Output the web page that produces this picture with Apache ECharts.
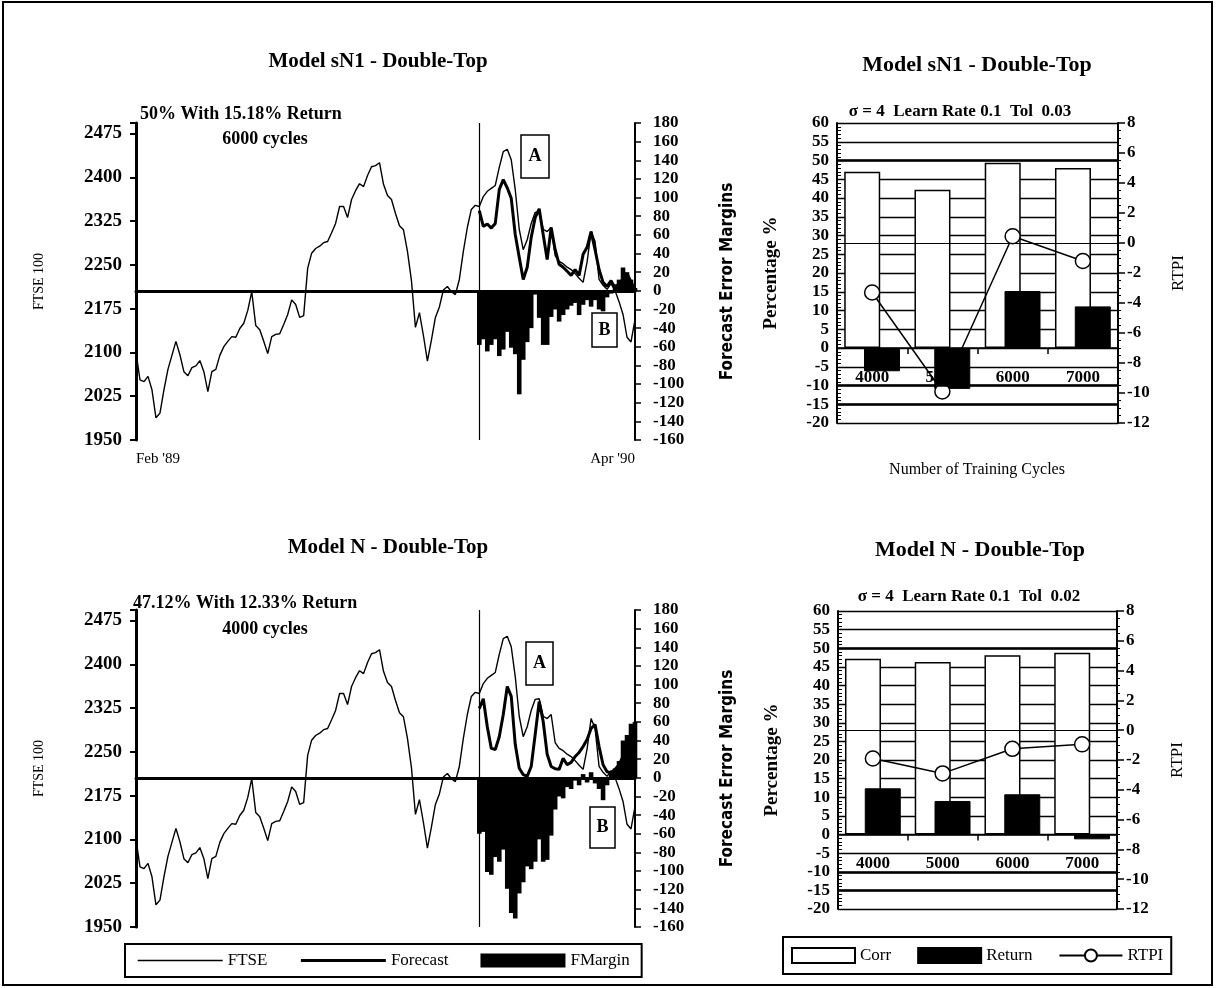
<!DOCTYPE html>
<html>
<head>
<meta charset="utf-8">
<script src="https://cdn.jsdelivr.net/npm/echarts@6/dist/echarts.min.js"></script>
<style>
  html, body { margin: 0; padding: 0; background: #fff; }
  #chart { width: 1216px; height: 988px; }
</style>
</head>
<body>
<div id="chart"></div>
<script>
  'use strict';

  /* data: FTSE 100, Feb '89 .. Apr '90 (same index in both left panels) */
  var dateLabels = ["Feb '89", "Apr '90"];
  var ftse = [
    2100, 2053, 2050, 2059, 2036, 1988, 1996, 2036, 2071, 2095,
    2119, 2096, 2067, 2060, 2074, 2077, 2086, 2067, 2033, 2067,
    2071, 2095, 2110, 2119, 2127, 2126, 2141, 2150, 2172, 2204,
    2146, 2139, 2119, 2098, 2127, 2131, 2132, 2148, 2165, 2190,
    2182, 2160, 2163, 2244, 2270, 2278, 2282, 2288, 2290, 2305,
    2321, 2350, 2350, 2331, 2362, 2377, 2389, 2384, 2403, 2418,
    2420, 2425, 2388, 2369, 2362, 2338, 2317, 2310, 2273, 2223,
    2143, 2168, 2129, 2085, 2121, 2160, 2178, 2207, 2213, 2204,
    2199, 2225, 2273, 2314, 2345, 2352, 2350, 2367, 2376, 2381,
    2386, 2417, 2444, 2448, 2430, 2379, 2311, 2276, 2293, 2321,
    2340, 2341, 2311, 2307, 2314, 2266, 2256, 2252, 2246, 2242,
    2235, 2227, 2220, 2255, 2307, 2290, 2225, 2215, 2208, 2218,
    2206, 2187, 2165, 2126, 2118, 2156
  ];
  var forecastStart = 86;

  /* Model sN1 (6000 cycles) */
  var forecastSN1 = [
    2343, 2316, 2320, 2313, 2321, 2379, 2396, 2382, 2364, 2302,
    2263, 2225, 2246, 2297, 2331, 2346, 2302, 2259, 2314, 2276,
    2251, 2246, 2239, 2232, 2242, 2232, 2268, 2280, 2307, 2276,
    2242, 2220, 2213, 2223, 2210, 2218, 2226, 2235, 2221, 2207
  ];
  var marginSN1 = [
    -58, -52, -65, -58, -52, -70, -63, -44, -61, -68,
    -111, -74, -55, -40, -4, -29, -58, -58, -28, -20,
    -33, -26, -20, -16, -13, -26, -15, -10, -17, -10,
    -20, -22, -7, -3, 7, 12, 25, 20, 12, 3
  ];

  /* Model N (4000 cycles) */
  var forecastN = [
    2324, 2341, 2293, 2256, 2254, 2276, 2314, 2362, 2345, 2263,
    2222, 2211, 2208, 2225, 2280, 2336, 2302, 2246, 2225, 2221,
    2220, 2239, 2228, 2232, 2242, 2249, 2259, 2271, 2290, 2297,
    2259, 2228, 2216, 2214, 2220, 2228, 2242, 2256, 2271, 2263
  ];
  var marginN = [
    -60, -58, -101, -104, -85, -90, -77, -119, -145, -151,
    -124, -112, -95, -98, -90, -66, -90, -88, -62, -34,
    -20, -22, -10, -12, -3, -8, 4, -5, 6, -6,
    -12, -24, -8, 5, 10, 18, 40, 46, 58, 60
  ];

  /* training cycle bar charts */
  var cycles = ['4000', '5000', '6000', '7000'];
  var corrSN1 = [47, 42.2, 49.4, 48];
  var returnSN1 = [-6.2, -10.9, 15.2, 11.1];
  var rtpiSN1 = [-3.3, -9.9, 0.45, -1.2];
  var corrN = [47.2, 46.3, 48.1, 48.8];
  var returnN = [12.4, 9.0, 10.8, -1.3];
  var rtpiN = [-1.9, -2.9, -1.25, -0.95];

  var SERIF = "'Liberation Serif','DejaVu Serif',serif";
  var NARROW = "'DejaVu Sans Condensed','Liberation Sans Narrow','DejaVu Sans',sans-serif";

  var idx = ftse.map(function (v, i) { return String(i); });

  function pad(arr) {
    var out = [];
    for (var i = 0; i < ftse.length; i++) {
      var k = i - forecastStart;
      out.push(k >= 0 && k < arr.length ? arr[k] : null);
    }
    return out;
  }

  /* axis builders */
  function timeAxis(g, showLabels) {
    return {
      type: 'category', gridIndex: g, data: idx, boundaryGap: false,
      axisLine: { lineStyle: { color: '#000', width: 3 } },
      axisTick: { show: false },
      axisLabel: {
        show: showLabels, interval: ftse.length - 2, margin: 12,
        alignMinLabel: 'left', alignMaxLabel: 'right',
        color: '#000', fontFamily: SERIF, fontSize: 15,
        formatter: function (v, i) { return i === 0 ? dateLabels[0] : dateLabels[1]; }
      },
      splitLine: { show: false }
    };
  }
  function ftseAxis(g) {
    return {
      type: 'value', gridIndex: g, position: 'left',
      min: 1950, max: 2493, interval: 75,
      name: 'FTSE 100', nameLocation: 'middle', nameGap: 90, nameRotate: 90,
      nameTextStyle: { color: '#000', fontFamily: SERIF, fontSize: 14 },
      axisLine: { show: true, lineStyle: { color: '#000', width: 3 } },
      axisTick: { show: true, length: 6, lineStyle: { color: '#000', width: 2 } },
      axisLabel: {
        margin: 14, color: '#000', fontFamily: SERIF, fontSize: 19, fontWeight: 'bold',
        formatter: function (v) { return (v - 1950) % 75 === 0 ? v : ''; }
      },
      splitLine: { show: false }
    };
  }
  function marginAxis(g) {
    return {
      type: 'value', gridIndex: g, position: 'right',
      min: -160, max: 180, interval: 20,
      name: 'Forecast Error Margins', nameLocation: 'middle', nameGap: 84, nameRotate: 90,
      nameTextStyle: { color: '#000', fontFamily: NARROW, fontSize: 17, fontWeight: 'bold' },
      axisLine: { show: true, lineStyle: { color: '#000', width: 2 } },
      axisTick: { show: true, length: 6, lineStyle: { color: '#000', width: 1.5 } },
      axisLabel: { margin: 18, color: '#000', fontFamily: SERIF, fontSize: 17, fontWeight: 'bold' },
      splitLine: { show: false }
    };
  }
  function cycleAxis(g) {
    return {
      type: 'category', gridIndex: g, data: cycles,
      axisLine: { onZero: true, lineStyle: { color: '#000', width: 1.5 } },
      axisTick: { show: true, length: 6, lineStyle: { color: '#000', width: 1.5 } },
      // labels sit just under the 0% line, inside the plot
      axisLabel: { margin: -54, color: '#000', fontFamily: SERIF, fontSize: 17, fontWeight: 'bold' },
      splitLine: { show: false }
    };
  }
  function pctAxis(g) {
    return {
      type: 'value', gridIndex: g, position: 'left',
      min: -20, max: 60, interval: 5,
      name: 'Percentage %', nameLocation: 'middle', nameGap: 56, nameRotate: 90,
      nameTextStyle: { color: '#000', fontFamily: SERIF, fontSize: 19, fontWeight: 'bold' },
      axisLine: { show: true, lineStyle: { color: '#000', width: 2 } },
      axisTick: { show: true, inside: true, length: 6, lineStyle: { color: '#000' } },
      minorTick: { show: true, splitNumber: 5, length: 4, lineStyle: { color: '#000' } },
      axisLabel: { margin: 8, color: '#000', fontFamily: SERIF, fontSize: 17, fontWeight: 'bold' },
      splitLine: { show: true, lineStyle: { color: '#000', width: 1.3 } }
    };
  }
  function rtpiAxis(g) {
    return {
      type: 'value', gridIndex: g, position: 'right',
      min: -12, max: 8, interval: 2,
      name: 'RTPI', nameLocation: 'middle', nameGap: 52, nameRotate: 90,
      nameTextStyle: { color: '#000', fontFamily: SERIF, fontSize: 17 },
      axisLine: { show: true, lineStyle: { color: '#000', width: 2 } },
      axisTick: { show: true, length: 7, lineStyle: { color: '#000', width: 1.5 } },
      minorTick: { show: true, splitNumber: 4, length: 3, lineStyle: { color: '#000' } },
      axisLabel: { margin: 9, color: '#000', fontFamily: SERIF, fontSize: 17, fontWeight: 'bold' },
      splitLine: { show: false }
    };
  }

  /* series builders */
  function timeSeries(ax, yl, yr, forecast, margin) {
    return [{
      name: 'FMargin', type: 'bar', xAxisIndex: ax, yAxisIndex: yr,
      data: pad(margin), barWidth: 4.6,
      itemStyle: { color: '#000' },
      markLine: {
        silent: true, symbol: 'none', label: { show: false },
        lineStyle: { color: '#000', width: 3, type: 'solid' },
        data: [{ yAxis: 0 }]
      }
    }, {
      name: 'FTSE', type: 'line', xAxisIndex: ax, yAxisIndex: yl,
      data: ftse, symbol: 'none',
      lineStyle: { color: '#000', width: 1.4 }, itemStyle: { color: '#000' },
      markLine: {
        silent: true, symbol: 'none', label: { show: false },
        lineStyle: { color: '#000', width: 1.2, type: 'solid' },
        data: [{ xAxis: String(forecastStart) }]
      }
    }, {
      name: 'Forecast', type: 'line', xAxisIndex: ax, yAxisIndex: yl,
      data: pad(forecast), symbol: 'none',
      lineStyle: { color: '#000', width: 3 }, itemStyle: { color: '#000' }
    }];
  }
  function cycleSeries(ax, yl, yr, corr, ret, rtpi) {
    return [{
      name: 'Corr', type: 'bar', xAxisIndex: ax, yAxisIndex: yl,
      data: corr, barWidth: 36, barGap: '-45%',
      itemStyle: { color: '#fff', borderColor: '#000', borderWidth: 1.5 },
      markLine: {
        silent: true, symbol: 'none', label: { show: false },
        lineStyle: { color: '#000', width: 2.5, type: 'solid' },
        data: [{ yAxis: 50 }, { yAxis: -10 }, { yAxis: -15 }]
      }
    }, {
      name: 'Return', type: 'bar', xAxisIndex: ax, yAxisIndex: yl,
      data: ret, barWidth: 36, barGap: '-45%',
      itemStyle: { color: '#000', borderColor: '#000', borderWidth: 1 }
    }, {
      name: 'RTPI', type: 'line', xAxisIndex: ax, yAxisIndex: yr,
      data: rtpi, symbol: 'circle', symbolSize: 15,
      lineStyle: { color: '#000', width: 1.5 },
      itemStyle: { color: '#fff', borderColor: '#000', borderWidth: 1.5 },
      markLine: {
        silent: true, symbol: 'none', label: { show: false },
        lineStyle: { color: '#000', width: 1.2, type: 'solid' },
        data: [{ yAxis: 0 }]
      }
    }];
  }

  function txt(s, x, y, size, weight, align, family) {
    return {
      type: 'text', x: x, y: y, z: 50,
      style: {
        text: s, fill: '#000', align: align || 'center', verticalAlign: 'middle',
        font: (weight || 'bold') + ' ' + size + 'px ' + (family || SERIF)
      }
    };
  }
  function box(s, x, y, w, h) {
    return {
      type: 'group', z: 50,
      children: [{
        type: 'rect', z: 50, shape: { x: x, y: y, width: w, height: h },
        style: { fill: '#fff', stroke: '#000', lineWidth: 1.5 }
      }, {
        type: 'text', z: 51, x: x + w / 2, y: y + h / 2,
        style: { text: s, fill: '#000', align: 'center', verticalAlign: 'middle',
                 font: 'bold 18px ' + SERIF }
      }]
    };
  }

  var chart = echarts.init(document.getElementById('chart'));
  var option = {
    backgroundColor: '#fff',
    animation: false,
    grid: [
      { left: 136, top: 123, width: 499, height: 317 },
      { left: 136, top: 610, width: 499, height: 317 },
      { left: 837, top: 123, width: 281, height: 300 },
      { left: 838, top: 611, width: 279, height: 298 }
    ],
    xAxis: [timeAxis(0, true), timeAxis(1, false), cycleAxis(2), cycleAxis(3)],
    yAxis: [ftseAxis(0), marginAxis(0), ftseAxis(1), marginAxis(1),
            pctAxis(2), rtpiAxis(2), pctAxis(3), rtpiAxis(3)],
    legend: [{
      data: [
        { name: 'FTSE', itemStyle: { opacity: 0 }, lineStyle: { width: 1.4 } },
        { name: 'Forecast', itemStyle: { opacity: 0 }, lineStyle: { width: 3 } },
        { name: 'FMargin', icon: 'rect' }
      ],
      left: 125, top: 944, itemWidth: 85, itemHeight: 14, itemGap: 32,
      padding: [8, 12], borderColor: '#000', borderWidth: 2, selectedMode: false,
      textStyle: { color: '#000', fontFamily: SERIF, fontSize: 17 }
    }, {
      data: [{ name: 'Corr', icon: 'rect' }, { name: 'Return', icon: 'rect' }, { name: 'RTPI' }],
      left: 783, top: 937, itemWidth: 63, itemHeight: 15, itemGap: 26,
      padding: [10, 8], borderColor: '#000', borderWidth: 2, selectedMode: false,
      textStyle: { color: '#000', fontFamily: SERIF, fontSize: 17 }
    }],
    graphic: [
      { type: 'rect', z: 40, shape: { x: 3, y: 2, width: 1209, height: 983 },
        style: { fill: 'none', stroke: '#000', lineWidth: 2 } },
      txt('Model sN1 - Double-Top', 378, 62, 21),
      txt('50% With 15.18% Return', 140, 114, 18, 'bold', 'left'),
      txt('6000 cycles', 265, 139, 18),
      txt('Model N - Double-Top', 388, 548, 21),
      txt('47.12% With 12.33% Return', 133, 603, 18, 'bold', 'left'),
      txt('4000 cycles', 265, 629, 18),
      txt('Model sN1 - Double-Top', 977, 65, 22),
      txt('\u03c3 = 4  Learn Rate 0.1  Tol  0.03', 960, 112, 17),
      txt('Number of Training Cycles', 977, 470, 16, 'normal'),
      txt('Model N - Double-Top', 980, 550, 22),
      txt('\u03c3 = 4  Learn Rate 0.1  Tol  0.02', 969, 597, 17),
      box('A', 521, 135, 28, 43),
      box('B', 592, 313, 25, 34),
      box('A', 526, 642, 27, 43),
      box('B', 590, 807, 25, 41)
    ],
    series: [].concat(
      timeSeries(0, 0, 1, forecastSN1, marginSN1),
      timeSeries(1, 2, 3, forecastN, marginN),
      cycleSeries(2, 4, 5, corrSN1, returnSN1, rtpiSN1),
      cycleSeries(3, 6, 7, corrN, returnN, rtpiN)
    )
  };
  chart.setOption(option);
</script>
</body>
</html>
